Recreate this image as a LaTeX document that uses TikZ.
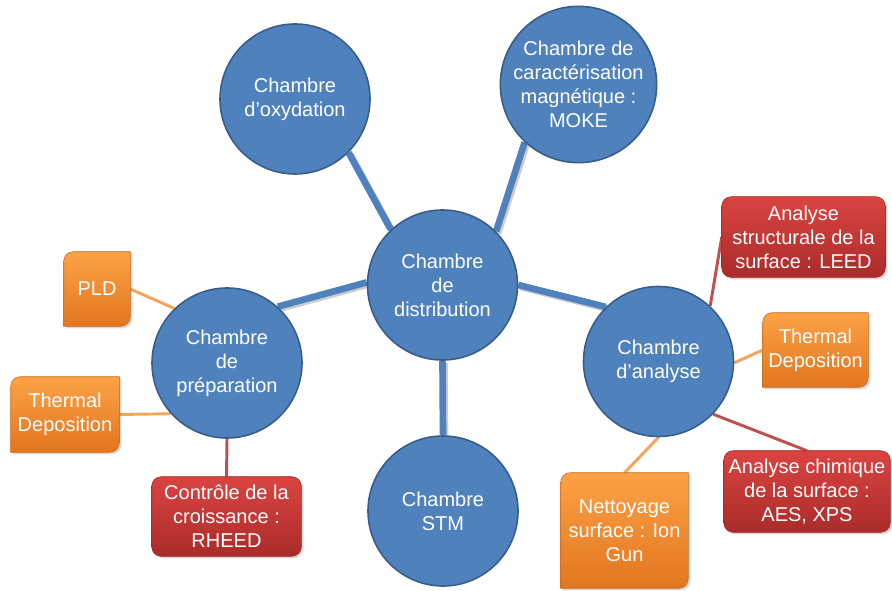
\documentclass[tikz,border=0pt]{standalone}
\usepackage{fontspec}
\setmainfont{Liberation Sans}
\usetikzlibrary{backgrounds,shadows}

\definecolor{chblue}{RGB}{79,129,189}
\definecolor{chborder}{RGB}{56,93,138}
\definecolor{ortop}{RGB}{252,162,70}
\definecolor{orbot}{RGB}{226,118,32}
\definecolor{rdtop}{RGB}{218,68,65}
\definecolor{rdbot}{RGB}{170,44,42}
\definecolor{orline}{RGB}{248,163,90}
\definecolor{rdline}{RGB}{192,80,77}

\tikzset{
  chamber/.style={circle, fill=chblue, draw=chborder, line width=1.2pt, minimum size=112.5pt, inner sep=0pt, text=white, align=center, font=\fontsize{15}{18}\selectfont},
  optbox/.style={rectangle, inner sep=2pt, text=white, align=center, font=\fontsize{15}{18}\selectfont},
  link/.style={line width=5pt, draw=chblue, preaction={draw=black, opacity=0.2, line width=5pt, transform canvas={xshift=1.5pt,yshift=-1.5pt}}},
  olink/.style={line width=2.2pt, draw=orline},
  rlink/.style={line width=2.2pt, draw=rdline},
  orfill/.style={top color=ortop, bottom color=orbot, draw=orbot!90!black, line width=0.4pt, drop shadow={opacity=0.3, shadow xshift=1.5pt, shadow yshift=-1.5pt}},
  rdfill/.style={top color=rdtop, bottom color=rdbot, draw=rdbot!90!black, line width=0.4pt, rounded corners=7pt, drop shadow={opacity=0.3, shadow xshift=1.5pt, shadow yshift=-1.5pt}}
}

% coins arrondis en diagonale
\newcommand{\diagbox}[1]{%
  \path[orfill] (#1.south west) -- ([yshift=-7pt]#1.north west) arc[start angle=180, end angle=90, radius=7pt] -- (#1.north east) -- ([yshift=7pt]#1.south east) arc[start angle=0, end angle=-90, radius=7pt] -- cycle;
}

\begin{document}
\begin{tikzpicture}[x=0.75pt, y=0.75pt]
	\useasboundingbox (0,0) rectangle (892,590);

	% chambres
	\node[chamber] (dist) at (442.5,305) {Chambre\\de\\distribution};
	\node[chamber] (oxy) at (295,491) {Chambre\\d’oxydation};
	\node[chamber] (moke) at (578.5,505.5) {Chambre de\\caractérisation\\magnétique :\\MOKE};
	\node[chamber] (prep) at (227,227) {Chambre\\de\\préparation};
	\node[chamber] (ana) at (658.5,228.5) {Chambre\\d’analyse};
	\node[chamber] (stm) at (443,79) {Chambre\\STM};

	% outils
	\node[optbox, minimum width=49.5pt, minimum height=55.5pt] (pld) at (97,301) {PLD};
	\node[optbox, minimum width=81pt, minimum height=56.25pt] (thl) at (65,175.5) {Thermal\\Deposition};
	\node[optbox, minimum width=111.75pt, minimum height=59.25pt] (rheed) at (226.5,73.5) {Contrôle de la\\croissance :\\RHEED};
	\node[optbox, minimum width=122.25pt, minimum height=60pt] (leed) at (803.5,353) {Analyse\\structurale de la\\surface : LEED};
	\node[optbox, minimum width=78.75pt, minimum height=55.5pt] (thr) at (815.5,240) {Thermal\\Deposition};
	\node[optbox, minimum width=124.5pt, minimum height=60.75pt] (xps) at (807,98.5) {Analyse chimique\\de la surface :\\AES, XPS};
	\node[optbox, minimum width=95.25pt, minimum height=86.25pt] (ion) at (624.5,59.5) {Nettoyage\\surface : Ion\\Gun};

	\begin{scope}[on background layer]
		\draw[link] (dist.133) -- (oxy.315);
		\draw[link] (dist.45) -- (moke.227);
		\draw[link] (dist.178) -- (prep.48);
		\draw[link] (dist.0) -- (ana.134);
		\draw[link] (dist.south) -- (stm.north);

		\draw[olink] (pld.east) -- (prep.134);
		\draw[olink] (thl.east) -- (prep.222);
		\draw[rlink] (rheed.north) -- (prep.south);
		\draw[rlink] (leed.west) -- (ana.47);
		\draw[olink] (thr.west) -- (ana.-1);
		\draw[rlink] (xps.north) -- (ana.-44);
		\draw[olink] (ion.north) -- (ana.south);

		\foreach \b in {pld,thl,thr,ion} {\diagbox{\b}}
		\foreach \b in {rheed,leed,xps} {\path[rdfill] (\b.south west) rectangle (\b.north east);}
	\end{scope}
\end{tikzpicture}
\end{document}
